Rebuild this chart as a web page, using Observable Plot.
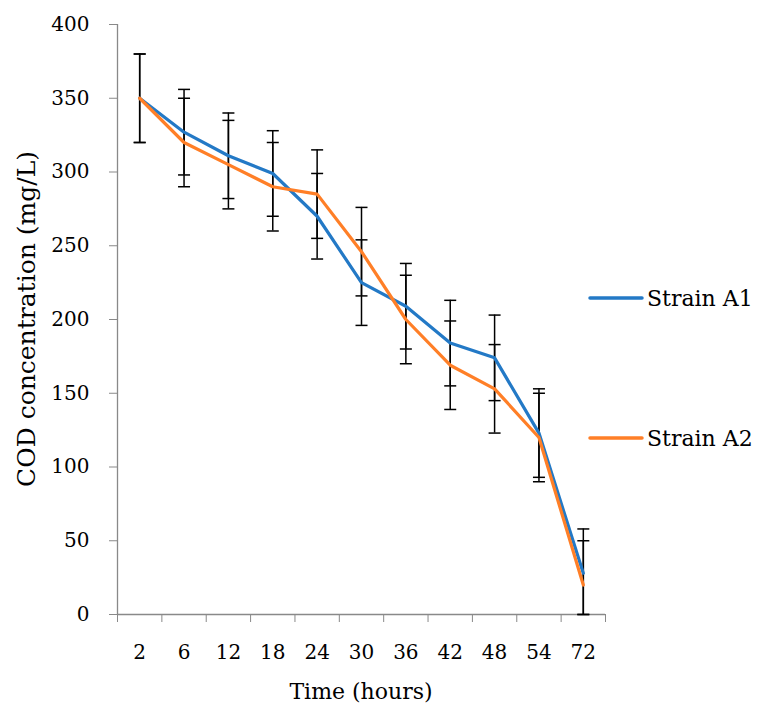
<!DOCTYPE html>
<html>
<head>
<meta charset="utf-8">
<script src="https://cdn.jsdelivr.net/npm/d3@7"></script>
<script src="https://cdn.jsdelivr.net/npm/@observablehq/plot@0.6"></script>
<style>
  html, body { margin: 0; padding: 0; background: #fff; }
  #chart { position: relative; width: 759px; height: 713px; }
</style>
</head>
<body>
<div id="chart"></div>
<script>
// ---- data ----
const times = ["2", "6", "12", "18", "24", "30", "36", "42", "48", "54", "72"];
const strainA1 = [350, 327, 311, 299, 270, 225, 209, 184, 174, 123, 28];
const strainA2 = [350, 320, 305, 290, 285, 246, 200, 169, 153, 120, 20];
const errA1 = [30, 29, 29, 29, 29, 29, 29, 29, 29, 30, 30];
const errA2 = [30, 30, 30, 30, 30, 30, 30, 30, 30, 30, 30];
const yTicks = [0, 50, 100, 150, 200, 250, 300, 350, 400];
const seriesNames = ["Strain A1", "Strain A2"];
const seriesColors = ["#2379C6", "#FF7F27"];
const xTitle = "Time (hours)";
const yTitle = "COD concentration (mg/L)";

// ---- build table ----
const seriesValues = [strainA1, strainA2];
const seriesErrors = [errA1, errA2];
const rows = [];
seriesNames.forEach((name, s) => {
  times.forEach((t, i) => {
    const v = seriesValues[s][i], e = seriesErrors[s][i];
    rows.push({series: name, time: t, pos: i + 0.5, value: v, lo: Math.max(0, v - e), hi: v + e});
  });
});
const boundaries = d3.range(times.length + 1);
const xLabels = times.map((t, i) => ({label: t, pos: i + 0.5}));

const capSymbol = {
  draw(context, size) {
    const w = Math.sqrt(size / Math.PI);
    context.moveTo(-w, 0);
    context.lineTo(w, 0);
  }
};

const axisGray = "#898989";
const font = "DejaVu Serif";

const plot = Plot.plot({
  width: 759,
  height: 713,
  marginLeft: 117,
  marginRight: 154,
  marginTop: 24,
  marginBottom: 99,
  style: {fontFamily: font, fontSize: "20px", background: "#fff", color: "#000"},
  x: {domain: [0, times.length], label: null},
  y: {domain: [0, 400], label: null},
  color: {domain: seriesNames, range: seriesColors},
  marks: [
    // axis ticks
    Plot.axisY({ticks: yTicks, tickSize: 8, stroke: axisGray, tickFormat: () => "", label: null}),
    Plot.axisX({ticks: boundaries, tickSize: 8, stroke: axisGray, tickFormat: () => "", label: null}),
    Plot.ruleX([0], {stroke: axisGray, strokeWidth: 1.3}),
    Plot.ruleY([0], {stroke: axisGray, strokeWidth: 1.3}),
    // tick labels
    Plot.text(yTicks, {x: 0, y: (d) => d, text: (d) => String(d), textAnchor: "end", dx: -28, fontSize: 20, fill: "#000"}),
    Plot.text(xLabels, {x: "pos", y: 0, text: "label", dy: 38, fontSize: 20, fill: "#000"}),
    // error bars
    Plot.ruleX(rows, {x: "pos", y1: "lo", y2: "hi", stroke: "#000", strokeWidth: 1.5}),
    Plot.dot(rows, {x: "pos", y: "hi", symbol: capSymbol, r: 6, stroke: "#000", fill: "none", strokeWidth: 1.5}),
    Plot.dot(rows, {x: "pos", y: "lo", symbol: capSymbol, r: 6, stroke: "#000", fill: "none", strokeWidth: 1.5}),
    // lines
    Plot.line(rows, {x: "pos", y: "value", z: "series", stroke: "series", strokeWidth: 3.2, strokeLinejoin: "miter"})
  ]
});

document.getElementById("chart").appendChild(plot);

const svg = d3.select(plot);

// axis titles
svg.append("text")
  .attr("transform", "translate(361,691)")
  .attr("text-anchor", "middle").attr("dy", "0.35em")
  .attr("font-family", font).attr("font-size", 22).attr("fill", "#000")
  .text(xTitle);
svg.append("text")
  .attr("transform", "translate(26,319) rotate(-90)")
  .attr("text-anchor", "middle").attr("dy", "0.35em")
  .attr("font-family", font).attr("font-size", 25).attr("fill", "#000")
  .text(yTitle);

// legend (to the right of the plot frame)
const legendY = [298, 438];
seriesNames.forEach((name, s) => {
  const g = svg.append("g").attr("transform", `translate(590,${legendY[s]})`);
  g.append("line").attr("x1", 0).attr("x2", 52).attr("y1", 0).attr("y2", 0)
    .attr("stroke", seriesColors[s]).attr("stroke-width", 3.5).attr("stroke-linecap", "round");
  g.append("text").attr("x", 57).attr("y", 0).attr("dy", "0.35em")
    .attr("text-anchor", "start")
    .attr("font-family", font).attr("font-size", 22).attr("fill", "#000").text(name);
});
</script>
</body>
</html>
